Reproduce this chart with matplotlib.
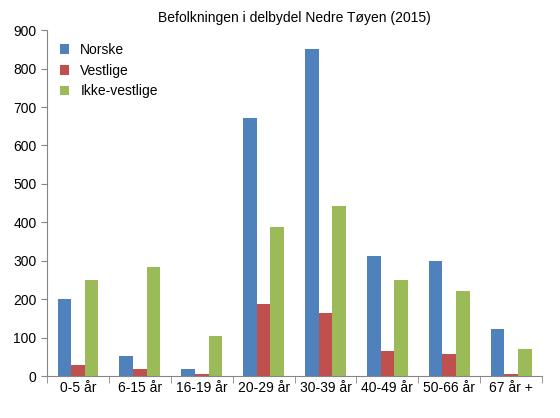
import numpy as np
import matplotlib.pyplot as plt

categories = ["0-5 år", "6-15 år", "16-19 år", "20-29 år", "30-39 år", "40-49 år", "50-66 år", "67 år +"]
norske = [200, 53, 18, 672, 850, 312, 300, 122]
vestlige = [30, 20, 5, 187, 165, 65, 57, 5]
ikke_vestlige = [250, 285, 105, 388, 442, 250, 222, 70]

plt.rcParams["font.family"] = ["Liberation Sans", "DejaVu Sans"]
fig = plt.figure(figsize=(5.6, 4.18), dpi=100)
ax = fig.add_axes([0.084, 0.10, 0.884, 0.828])

x = np.arange(len(categories))
w = 0.22
ax.bar(x - w, norske, w, color="#4F81BD", label="Norske")
ax.bar(x, vestlige, w, color="#C0504D", label="Vestlige")
ax.bar(x + w, ikke_vestlige, w, color="#9BBB59", label="Ikke-vestlige")

ax.set_xlim(-0.5, len(categories) - 0.5)
ax.set_ylim(0, 900)
ax.set_yticks(range(0, 901, 100))
ax.set_xticks(x)
ax.set_xticklabels(categories, fontsize=10)
ax.tick_params(axis="y", labelsize=10)
ax.set_xticks(np.arange(len(categories) + 1) - 0.5, minor=True)
ax.tick_params(axis="x", which="major", length=0)
ax.tick_params(axis="x", which="minor", length=5, color="#868686")
ax.tick_params(axis="y", length=4, color="#868686")
for s in ["top", "right"]:
    ax.spines[s].set_visible(False)
for s in ["left", "bottom"]:
    ax.spines[s].set_color("#868686")

ax.set_title("Befolkningen i delbydel Nedre Tøyen (2015)", fontsize=10, pad=6)
ax.legend(loc="upper left", frameon=False, fontsize=10, bbox_to_anchor=(0.0, 1.0),
          handlelength=0.7, handleheight=0.7)

fig.savefig("out.png", dpi=100)
